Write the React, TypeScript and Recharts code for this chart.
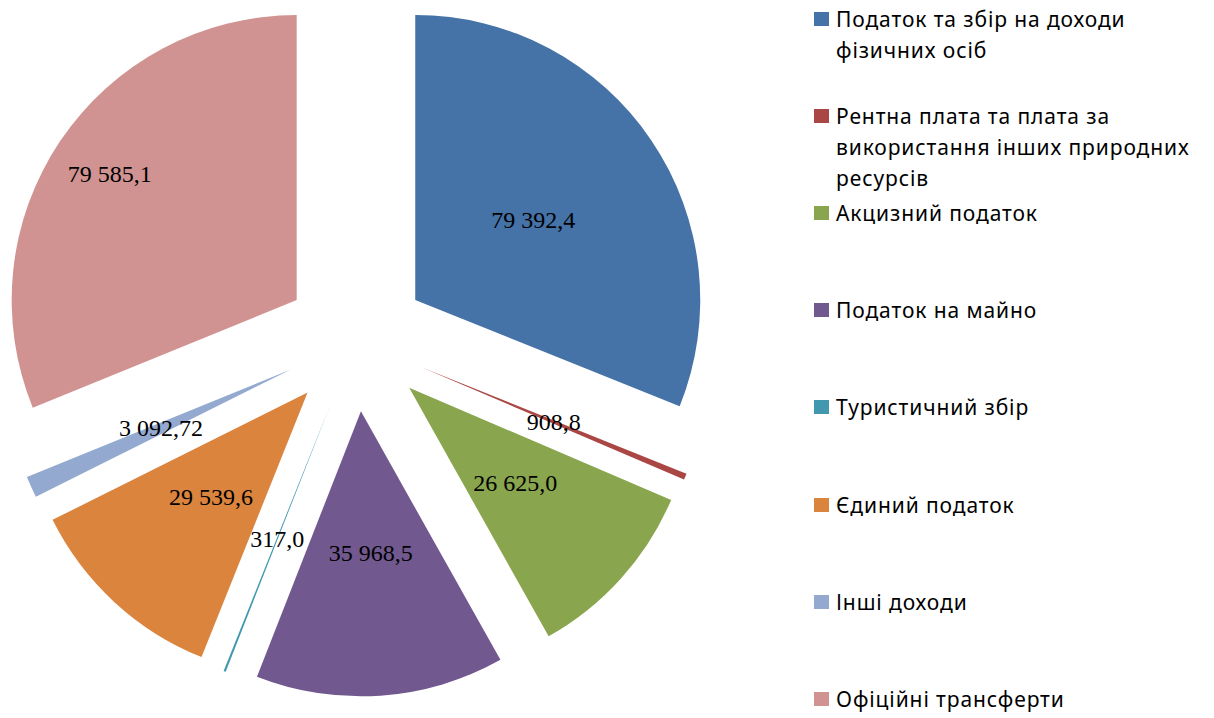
import { Legend, Pie, PieChart, Sector } from 'recharts';

// categories and values (thousand UAH)
const categories = [
  'Податок та збір на доходи фізичних осіб',
  'Рентна плата та плата за використання інших природних ресурсів',
  'Акцизний податок',
  'Податок на майно',
  'Туристичний збір',
  'Єдиний податок',
  'Інші доходи',
  'Офіційні трансферти',
];
const values = [79392.4, 908.8, 26625.0, 35968.5, 317.0, 29539.6, 3092.72, 79585.1];

const COLORS = ['#4572A7', '#AA4643', '#89A54E', '#71588F', '#4198AF', '#DB843D', '#93A9CF', '#D19392'];

const data = categories.map((name, i) => ({ name, value: values[i] }));

const EXPLODE = 71.5;
const RADIUS = 285;

// 79392.4 -> "79 392,4"
const fmt = (v: number) => {
  const dec = Math.max(1, (String(v).split('.')[1] || '').length);
  const [int, frac] = v.toFixed(dec).split('.');
  return int.replace(/\B(?=(\d{3})+(?!\d))/g, ' ') + ',' + frac;
};

const shift = (p: any, dist: number) => {
  const rad = (-p.midAngle * Math.PI) / 180;
  return { x: p.cx + dist * Math.cos(rad), y: p.cy + dist * Math.sin(rad) };
};

// exploded slices are drawn from the sector geometry recharts computes
const renderSlice = (p: any) => {
  const o = shift(p, EXPLODE);
  return (
    <Sector
      cx={o.x}
      cy={o.y}
      innerRadius={0}
      outerRadius={p.outerRadius}
      startAngle={p.startAngle}
      endAngle={p.endAngle}
      fill={COLORS[p.index]}
      stroke="none"
    />
  );
};

// the last (pink) label sits further out, like excel's best fit
const labelRadius = (i: number) => (i === 7 ? 0.79 : 0.5);

const renderValue = (p: any) => {
  const o = shift(p, EXPLODE + p.outerRadius * labelRadius(p.index));
  return (
    <text
      x={o.x}
      y={o.y}
      textAnchor="middle"
      dominantBaseline="central"
      fontFamily='"Liberation Serif", "Times New Roman", serif'
      fontSize={24}
      fill="#000"
    >
      {fmt(p.value)}
    </text>
  );
};

const LegendContent = ({ payload }: any) => {
  // both pies push entries; keep one per category in data order
  const items: any[] = [];
  (payload || []).forEach((e: any) => {
    if (!items.some((x) => x.value === e.value)) items.push(e);
  });
  items.sort((a, b) => categories.indexOf(a.value) - categories.indexOf(b.value));
  return (
    <div
      style={{
        position: 'relative',
        width: 408,
        height: 718,
        fontFamily: '"Noto Sans", sans-serif',
        fontSize: 21,
        letterSpacing: 0.9,
        color: '#000',
      }}
    >
      {items.map((entry: any, i: number) => (
        <div key={entry.value} style={{ position: 'absolute', left: 8, top: 3.5 + i * 97.2 }}>
          <span style={{ position: 'absolute', left: 0, top: 8, width: 15, height: 14, background: COLORS[categories.indexOf(entry.value)] }} />
          <div style={{ marginLeft: 22, width: 378, lineHeight: '31px' }}>{entry.value}</div>
        </div>
      ))}
    </div>
  );
};

export default function App() {
  return (
    <div style={{ position: 'absolute', left: 0, top: 0, width: 1214, height: 718, background: '#fff' }}>
      <PieChart width={1214} height={718} margin={{ top: 0, right: 0, bottom: 0, left: 0 }}>
        <Pie
          data={data}
          dataKey="value"
          nameKey="name"
          cx={356}
          cy={340}
          outerRadius={RADIUS}
          startAngle={90}
          endAngle={-270}
          fill="none"
          stroke="none"
          label={renderSlice}
          labelLine={false}
          isAnimationActive={false}
        />
        <Pie
          data={data}
          dataKey="value"
          nameKey="name"
          cx={356}
          cy={340}
          outerRadius={RADIUS}
          startAngle={90}
          endAngle={-270}
          fill="none"
          stroke="none"
          label={renderValue}
          labelLine={false}
          legendType="none"
          isAnimationActive={false}
        />
        <Legend
          layout="vertical"
          align="right"
          verticalAlign="top"
          content={<LegendContent />}
          wrapperStyle={{ left: 806, top: 0, width: 408, height: 718 }}
        />
      </PieChart>
    </div>
  );
}
